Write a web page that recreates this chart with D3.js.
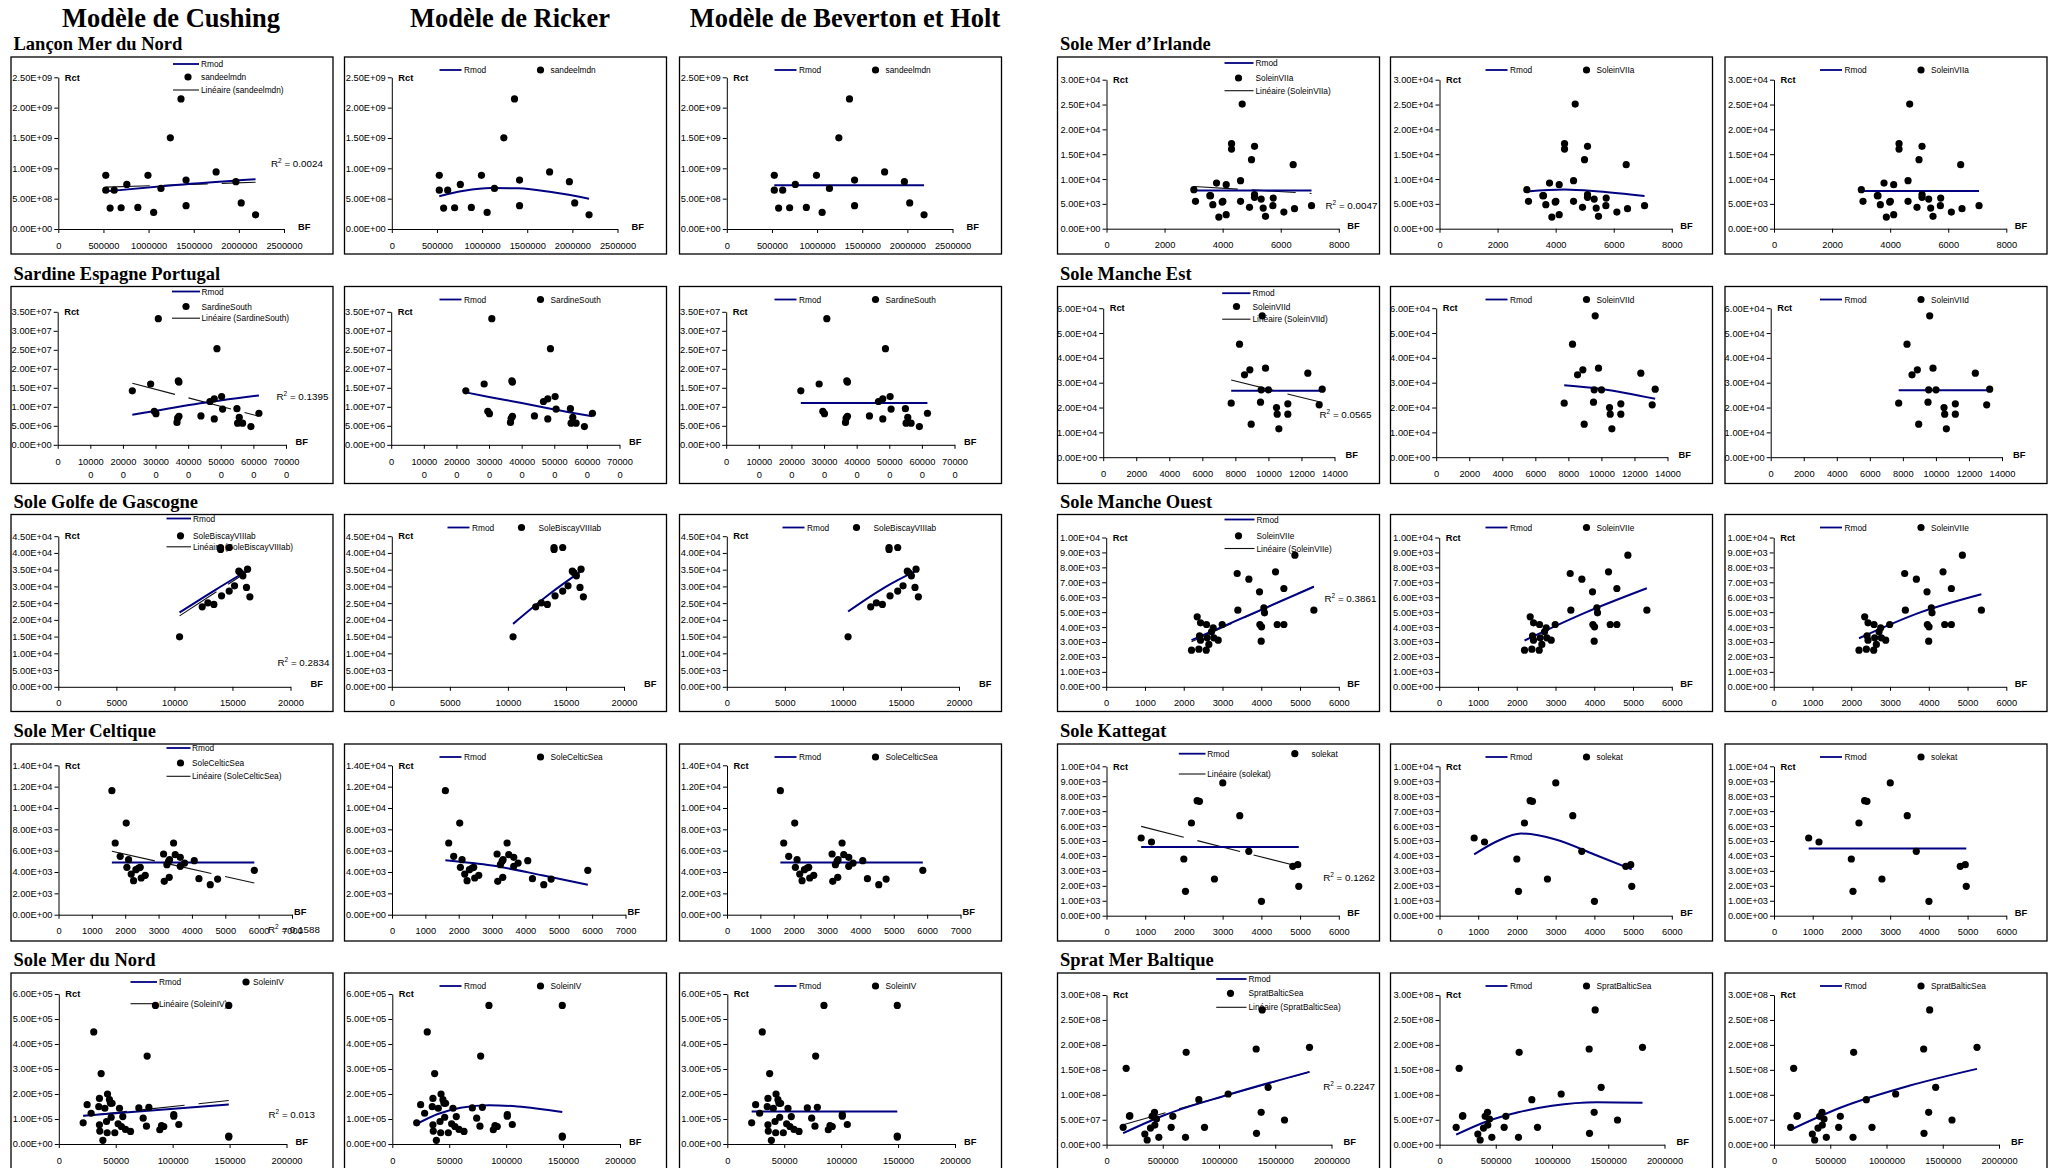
<!DOCTYPE html>
<html>
<head>
<meta charset="utf-8">
<script src="https://cdn.jsdelivr.net/npm/d3@7"></script>
<style>
  body { margin: 0; background: #fff; }
  svg { display: block; }
</style>
</head>
<body>
<svg id="chart" width="2060" height="1168"></svg>
<script>
// ---------- Stock-recruitment data: BF (spawning biomass) vs Rct (recruitment) ----------

// Lançon Mer du Nord (sandeelmdn)
const lanconBF  = [526000, 526000, 574000, 619000, 696000, 759000, 881000, 993000, 1056000, 1137000, 1241000, 1359000, 1415000, 1415000, 1748000, 1967000, 2026000, 2185000];
const lanconRct = [8.85e8, 6.40e8, 3.45e8, 6.40e8, 3.50e8, 7.35e8, 3.56e8, 8.85e8, 2.73e8, 6.68e8, 1.503e9, 2.144e9, 8.07e8, 3.84e8, 9.41e8, 7.80e8, 4.29e8, 2.34e8];
const lanconCushing = [[526000, 6.2e8], [1300000, 7.25e8], [2185000, 8.2e8]];
const lanconRicker  = [[526000, 5.4e8], [800000, 6.3e8], [1100000, 6.75e8], [1400000, 6.7e8], [1800000, 6.0e8], [2185000, 5.0e8]];
const lanconBH      = [[526000, 7.2e8], [2185000, 7.2e8]];
const lanconTrend   = [[526000, 6.9e8], [2185000, 7.7e8]];
const lanconXTicks  = [0, 500000, 1000000, 1500000, 2000000, 2500000];
const lanconYTicks  = [0, 5e8, 1e9, 1.5e9, 2e9, 2.5e9];

// Sardine Espagne Portugal (SardineSouth)
const sardineBF  = [228800, 285000, 308500, 296200, 301300, 369800, 371800, 365700, 367700, 371800, 439200, 466800, 480100, 488300, 480100, 502600, 505600, 549500, 556700, 551600, 566900, 592400, 617000];
const sardineRct = [14.2e6, 16.0e6, 33.2e6, 8.8e6, 8.2e6, 16.8e6, 16.5e6, 5.9e6, 7.0e6, 7.5e6, 7.6e6, 11.4e6, 12.1e6, 25.3e6, 6.8e6, 12.7e6, 9.4e6, 9.5e6, 7.2e6, 5.7e6, 5.7e6, 4.8e6, 8.3e6];
const sardineCushing = [[228800, 7.9e6], [420000, 10.7e6], [617000, 13.0e6]];
const sardineRicker  = [[228800, 13.8e6], [300000, 12.6e6], [400000, 11.0e6], [500000, 9.3e6], [617000, 7.5e6]];
const sardineBH      = [[228800, 11.0e6], [617000, 11.0e6]];
const sardineTrend   = [[228800, 16.2e6], [617000, 7.5e6]];
const sardineXTicks  = [0, 100000, 200000, 300000, 400000, 500000, 600000, 700000];
const sardineYTicks  = [0, 5e6, 1e7, 1.5e7, 2e7, 2.5e7, 3e7, 3.5e7];

// Sole Golfe de Gascogne (SoleBiscayVIIIab)
const gascogneBF  = [10445, 12396, 12884, 13400, 14060, 13975, 13975, 14720, 14720, 15180, 15550, 15700, 15900, 16300, 16210, 16500];
const gascogneRct = [14940, 23900, 25100, 24600, 27190, 41630, 41040, 41630, 28590, 30180, 34560, 34060, 33170, 35160, 29680, 26890];
const gascogneCushing = [[10445, 22200], [13500, 28900], [16500, 35200]];
const gascogneRicker  = [[10445, 18800], [13500, 27500], [16500, 35000]];
const gascogneBH      = [[10445, 22500], [13500, 29500], [16500, 35000]];
const gascogneTrend   = [[10445, 21200], [16500, 34900]];
const gascogneXTicks  = [0, 5000, 10000, 15000, 20000];
const gascogneYTicks  = [0, 5e3, 1e4, 1.5e4, 2e4, 2.5e4, 3e4, 3.5e4, 4e4, 4.5e4];

// Sole Mer Celtique (SoleCelticSea)
const celtiqueBF  = [1600, 1700, 1850, 2030, 2100, 2050, 2180, 2250, 2320, 2400, 2450, 2480, 2600, 3150, 3170, 3250, 3300, 3330, 3320, 3450, 3500, 3650, 3650, 3780, 4070, 4210, 4550, 4770, 5870];
const celtiqueRct = [11625, 6720, 5470, 8590, 5160, 4440, 3810, 3190, 4220, 4375, 4440, 3440, 3690, 5690, 3125, 4690, 5000, 5160, 3500, 6720, 5625, 5375, 4530, 4840, 5060, 3375, 2810, 3340, 4160];
const celtiqueCushing = [[1600, 4900], [5870, 4900]];
const celtiqueRicker  = [[1600, 5100], [3000, 4600], [4500, 3700], [5870, 2800]];
const celtiqueBH      = [[1600, 4900], [5870, 4900]];
const celtiqueTrend   = [[1600, 5940], [5870, 2970]];
const celtiqueXTicks  = [0, 1000, 2000, 3000, 4000, 5000, 6000, 7000];
const celtiqueYTicks  = [0, 2e3, 4e3, 6e3, 8e3, 1e4, 1.2e4, 1.4e4];

// Sole Mer du Nord (SoleinIV)
const soleNordBF  = [21400, 24900, 28400, 30700, 35100, 35700, 35700, 36000, 37200, 38700, 40400, 41900, 42500, 42800, 44500, 45400, 46000, 46800, 49200, 52100, 53300, 55000, 56200, 58600, 63000, 70300, 74100, 77000, 77600, 79100, 84900, 88700, 90200, 92200, 101000, 101000, 105400, 149300, 149300, 149300];
const soleNordRct = [84700, 157400, 123000, 448400, 149500, 182500, 76700, 51600, 281800, 14600, 142900, 90000, 45000, 199700, 177300, 162700, 107100, 162700, 45000, 80700, 142900, 70100, 109800, 58200, 50300, 144200, 103200, 71400, 351900, 146800, 554300, 56900, 74100, 70100, 111100, 117700, 78000, 554300, 31700, 27800];
const soleNordCushing = [[21400, 113000], [149300, 158000]];
const soleNordRicker  = [[21400, 80000], [40000, 120000], [60000, 145000], [85000, 155000], [110000, 150000], [149300, 128000]];
const soleNordBH      = [[21400, 130000], [149300, 130000]];
const soleNordTrend   = [[21400, 112000], [149300, 174000]];
const soleNordXTicks  = [0, 50000, 100000, 150000, 200000];
const soleNordYTicks  = [0, 1e5, 2e5, 3e5, 4e5, 5e5, 6e5];

// Sole Mer d'Irlande (SoleinVIIa)
const irlandeBF  = [3008, 3065, 3559, 3582, 3662, 3789, 3984, 4007, 3869, 4122, 4122, 4306, 4306, 4616, 4616, 4673, 4994, 4925, 5098, 5098, 5098, 5327, 5396, 5476, 5741, 5729, 6108, 6429, 6475, 7061];
const irlandeRct = [7852, 5503, 6644, 6644, 4832, 9195, 5369, 5503, 2349, 8859, 2819, 17114, 16040, 9664, 5503, 25101, 13893, 4295, 16577, 6846, 6309, 5973, 4161, 2483, 6175, 4631, 3356, 12886, 4027, 4631];
const irlandeCushing = [[3008, 7700], [7061, 7700]];
const irlandeRicker  = [[3008, 7500], [4300, 7900], [5500, 7500], [7061, 6600]];
const irlandeBH      = [[3008, 7600], [7061, 7600]];
const irlandeTrend   = [[3008, 8500], [7061, 7100]];
const irlandeXTicks  = [0, 2000, 4000, 6000, 8000];
const irlandeYTicks  = [0, 5e3, 1e4, 1.5e4, 2e4, 2.5e4, 3e4];

// Sole Manche Est (SoleinVIId)
const mancheEstBF  = [7747, 8251, 8554, 8877, 8957, 9522, 9562, 9623, 9824, 10006, 10490, 10531, 10632, 11176, 11176, 12386, 13254, 13073];
const mancheEstRct = [21745, 45503, 33154, 35168, 13289, 22148, 27114, 56913, 35839, 27114, 20000, 17315, 11409, 21477, 17315, 33826, 27383, 21074];
const mancheEstCushing = [[7747, 26800], [13254, 26800]];
const mancheEstRicker  = [[7747, 29000], [10000, 27500], [13254, 23500]];
const mancheEstBH      = [[7747, 27000], [13254, 27000]];
const mancheEstTrend   = [[7747, 31100], [13254, 22000]];
const mancheEstXTicks  = [0, 2000, 4000, 6000, 8000, 10000, 12000, 14000];
const mancheEstYTicks  = [0, 1e4, 2e4, 3e4, 4e4, 5e4, 6e4];

// Sole Manche Ouest (SoleinVIIe)
const mancheOuestBF  = [2201, 2347, 2390, 2408, 2433, 2433, 2580, 2588, 2605, 2648, 2717, 2760, 2777, 2889, 2992, 3379, 3396, 3680, 3955, 3964, 4007, 3998, 4067, 4084, 4368, 4411, 4583, 4583, 4867, 5357];
const mancheOuestRct = [2455, 4688, 2522, 3415, 3125, 4286, 2455, 4174, 3281, 2835, 3683, 3951, 3281, 3125, 4174, 7589, 5134, 7210, 6362, 4174, 4018, 3058, 5290, 4955, 7701, 4174, 6585, 4174, 8817, 5134];
const mancheOuestCushing = [[2201, 3125], [5357, 6700]];
const mancheOuestRicker  = [[2201, 3100], [3800, 5000], [5357, 6600]];
const mancheOuestBH      = [[2201, 3250], [3800, 5000], [5357, 6200]];
const mancheOuestTrend   = [[2201, 3020], [5357, 6740]];
const mancheOuestXTicks  = [0, 1000, 2000, 3000, 4000, 5000, 6000];
const mancheOuestYTicks  = [0, 1e3, 2e3, 3e3, 4e3, 5e3, 6e3, 7e3, 8e3, 9e3, 1e4];

// Sole Kattegat (solekat)
const kattegatBF  = [895, 1162, 1997, 2040, 2194, 2341, 2401, 2788, 3003, 3442, 3675, 4002, 4811, 4940, 4966];
const kattegatRct = [5201, 4933, 3795, 1629, 6205, 7701, 7656, 2455, 8884, 6696, 4308, 960, 3304, 3415, 1964];
const kattegatCushing = [[895, 4600], [4966, 4600]];
const kattegatRicker  = [[895, 4100], [1500, 5000], [2100, 5500], [3000, 5100], [4000, 4100], [4966, 3100]];
const kattegatBH      = [[895, 4500], [4966, 4500]];
const kattegatTrend   = [[895, 5980], [4966, 3300]];
const kattegatXTicks  = [0, 1000, 2000, 3000, 4000, 5000, 6000];
const kattegatYTicks  = [0, 1e3, 2e3, 3e3, 4e3, 5e3, 6e3, 7e3, 8e3, 9e3, 1e4];

// Sprat Mer Baltique (SpratBalticSea)
const spratBF  = [148100, 174800, 204400, 207400, 340700, 361500, 391100, 405900, 426700, 429600, 444400, 465200, 589600, 574800, 708100, 702200, 820700, 871100, 1081500, 1330400, 1333300, 1374800, 1383700, 1437000, 1582200, 1804400];
const spratRct = [34.8e6, 153.1e6, 56.8e6, 58.2e6, 21.4e6, 9.4e6, 33.4e6, 56.8e6, 64.8e6, 39.4e6, 51.5e6, 14.7e6, 56.8e6, 34.8e6, 185.2e6, 14.7e6, 90.2e6, 34.8e6, 101.6e6, 191.8e6, 22.7e6, 64.8e6, 270.1e6, 115.0e6, 49.5e6, 195.2e6];
const spratCushing = [[148100, 23e6], [500000, 58e6], [1081500, 100e6], [1804400, 146e6]];
const spratRicker  = [[148100, 20e6], [400000, 45e6], [700000, 65e6], [1000000, 78e6], [1400000, 85e6], [1804400, 84e6]];
const spratBH      = [[148100, 30e6], [600000, 75e6], [1200000, 118e6], [1804400, 152e6]];
const spratTrend   = [[148100, 40e6], [1804400, 146e6]];
const spratXTicks  = [0, 500000, 1000000, 1500000, 2000000];
const spratYTicks  = [0, 5e7, 1e8, 1.5e8, 2e8, 2.5e8, 3e8];

// Column headers (one per model)
const modelTitles = ["Modèle de Cushing", "Modèle de Ricker", "Modèle de Beverton et Holt"];

// Stocks: the first five fill the left block, the last five the right block
const stocks = [
  { title: "Lançon Mer du Nord",       series: "sandeelmdn",       bf: lanconBF,      rct: lanconRct,      models: [lanconCushing, lanconRicker, lanconBH],                trend: lanconTrend,      r2: "0.0024", xTicks: lanconXTicks,      yTicks: lanconYTicks },
  { title: "Sardine Espagne Portugal", series: "SardineSouth",     bf: sardineBF,     rct: sardineRct,     models: [sardineCushing, sardineRicker, sardineBH],             trend: sardineTrend,     r2: "0.1395", xTicks: sardineXTicks,     yTicks: sardineYTicks, wrapX: true },
  { title: "Sole Golfe de Gascogne",   series: "SoleBiscayVIIIab", bf: gascogneBF,    rct: gascogneRct,    models: [gascogneCushing, gascogneRicker, gascogneBH],          trend: gascogneTrend,    r2: "0.2834", xTicks: gascogneXTicks,    yTicks: gascogneYTicks },
  { title: "Sole Mer Celtique",        series: "SoleCelticSea",    bf: celtiqueBF,    rct: celtiqueRct,    models: [celtiqueCushing, celtiqueRicker, celtiqueBH],          trend: celtiqueTrend,    r2: "0.1588", xTicks: celtiqueXTicks,    yTicks: celtiqueYTicks },
  { title: "Sole Mer du Nord",         series: "SoleinIV",         bf: soleNordBF,    rct: soleNordRct,    models: [soleNordCushing, soleNordRicker, soleNordBH],          trend: soleNordTrend,    r2: "0.013",  xTicks: soleNordXTicks,    yTicks: soleNordYTicks },
  { title: "Sole Mer d\u2019Irlande",  series: "SoleinVIIa",       bf: irlandeBF,     rct: irlandeRct,     models: [irlandeCushing, irlandeRicker, irlandeBH],             trend: irlandeTrend,     r2: "0.0047", xTicks: irlandeXTicks,     yTicks: irlandeYTicks },
  { title: "Sole Manche Est",          series: "SoleinVIId",       bf: mancheEstBF,   rct: mancheEstRct,   models: [mancheEstCushing, mancheEstRicker, mancheEstBH],       trend: mancheEstTrend,   r2: "0.0565", xTicks: mancheEstXTicks,   yTicks: mancheEstYTicks },
  { title: "Sole Manche Ouest",        series: "SoleinVIIe",       bf: mancheOuestBF, rct: mancheOuestRct, models: [mancheOuestCushing, mancheOuestRicker, mancheOuestBH], trend: mancheOuestTrend, r2: "0.3861", xTicks: mancheOuestXTicks, yTicks: mancheOuestYTicks },
  { title: "Sole Kattegat",            series: "solekat",          bf: kattegatBF,    rct: kattegatRct,    models: [kattegatCushing, kattegatRicker, kattegatBH],          trend: kattegatTrend,    r2: "0.1262", xTicks: kattegatXTicks,    yTicks: kattegatYTicks },
  { title: "Sprat Mer Baltique",       series: "SpratBalticSea",   bf: spratBF,       rct: spratRct,       models: [spratCushing, spratRicker, spratBH],                   trend: spratTrend,       r2: "0.2247", xTicks: spratXTicks,       yTicks: spratYTicks }
];

// ---------- Layout ----------
const W = 2060, H = 1168;
const colX = [11, 344.5, 679.5, 1057.5, 1390.5, 1725];
const rowY = [57, 286.5, 514.5, 744, 973];
const headerX = [171, 510, 845];
const BOX_W = 322, BOX_H = 197;
const SERIF = "'Liberation Serif', 'Times New Roman', serif";
const SANS = "'Liberation Sans', Arial, sans-serif";
const RMOD_COLOR = "#000080";
const DOT_R = 3.6;

// Plot area, legend and R² placement inside each stock's chart box
const defaultLeg2 = { line: [95, 117], text: 119.5, dot: 196, label: 206, y: 13 };
const frames = [
  { left: 47.3, right: 273,   top: 20.3, bottom: 172,   bfX: 287,   r2: [260, 107],   leg: { kind: "stack", line: [162, 188],     text: 190,   dot: 177,   rows: [7, 20, 33] } },
  { left: 46.7, right: 275,   top: 25.3, bottom: 158.3, bfX: 284.5, r2: [265.5, 110], leg: { kind: "stack", line: [161, 189],     text: 190.5, dot: 175,   rows: [5, 20, 31.7] } },
  { left: 47.3, right: 279.5, top: 21.7, bottom: 172.3, bfX: 299.5, r2: [266.5, 148], leg: { kind: "stack", line: [155.5, 180],   text: 182,   dot: 169.5, rows: [4, 21.3, 32.3] }, leg2: { line: [103, 125], text: 127.5, dot: 177, label: 194, y: 13 } },
  { left: 47.5, right: 281,   top: 21.3, bottom: 170.7, bfX: 283,   r2: [257, 186],   leg: { kind: "stack", line: [155.5, 179.5], text: 181,   dot: 169.5, rows: [4, 19, 32.3] } },
  { left: 47.8, right: 275.5, top: 21,   bottom: 171,   bfX: 284.5, r2: [257.5, 141.5], leg: { kind: "pair", line: [119.5, 146],  text: 148,   dot: 235,   label: 242, rows: [9, 30.7] } },
  { left: 49,   right: 281.3, top: 22.7, bottom: 171.7, bfX: 289.7, r2: [268, 148.5], leg: { kind: "stack", line: [167, 196],     text: 198,   dot: 181,   rows: [6, 21, 33.7] } },
  { left: 45.7, right: 277,   top: 21.7, bottom: 170.7, bfX: 288,   r2: [262, 128],   leg: { kind: "stack", line: [164.7, 193],   text: 195,   dot: 179,   rows: [6.7, 20, 32.7] } },
  { left: 48.7, right: 281.3, top: 23,   bottom: 172.3, bfX: 289.7, r2: [267, 84],    leg: { kind: "stack", line: [167, 197],     text: 199,   dot: 181,   rows: [5, 21.3, 34] } },
  { left: 49,   right: 281.3, top: 22.3, bottom: 171.7, bfX: 289.7, r2: [265.7, 134], leg: { kind: "pair",  line: [121.3, 148],   text: 149.7, dot: 237.3, label: 254, rows: [9.7, 30] } },
  { left: 49,   right: 274,   top: 22,   bottom: 171.7, bfX: 286,   r2: [265.7, 114], leg: { kind: "stack", line: [158.7, 189],   text: 191,   dot: 173,   rows: [6, 20.3, 34.3] } }
];

// Excel-style scientific labels, e.g. 2.50E+09
function sci(v) {
  if (v === 0) return "0.00E+00";
  const e = Math.floor(Math.log10(v) + 1e-9);
  const m = v / Math.pow(10, e);
  return m.toFixed(2) + "E+" + String(e).padStart(2, "0");
}
const intFmt = d3.format("d");

const svg = d3.select("#chart");
svg.append("rect").attr("width", W).attr("height", H).attr("fill", "#fff");

// Column headers
modelTitles.forEach((t, i) => {
  svg.append("text")
    .attr("x", headerX[i]).attr("y", 27)
    .attr("text-anchor", "middle")
    .attr("font-family", SERIF).attr("font-weight", "bold").attr("font-size", 26.5)
    .attr("fill", "#000")
    .text(t);
});

function legendText(g, x, y, txt) {
  g.append("text").attr("x", x).attr("y", y + 3)
    .attr("font-family", SANS).attr("font-size", 8.3).attr("fill", "#000")
    .text(txt);
}
function legendLine(g, x0, x1, y, color, w) {
  g.append("line").attr("x1", x0).attr("x2", x1).attr("y1", y).attr("y2", y)
    .attr("stroke", color).attr("stroke-width", w);
}
function legendDot(g, x, y) {
  g.append("circle").attr("cx", x).attr("cy", y).attr("r", DOT_R).attr("fill", "#000");
}

function drawPanel(stock, frame, m, gx, gy) {
  const g = svg.append("g").attr("transform", `translate(${gx},${gy})`);
  g.append("rect").attr("x", 0).attr("y", 0).attr("width", BOX_W).attr("height", BOX_H)
    .attr("fill", "#fff").attr("stroke", "#000").attr("stroke-width", 1.3);

  const x = d3.scaleLinear().domain([0, d3.max(stock.xTicks)]).range([frame.left, frame.right]);
  const y = d3.scaleLinear().domain([0, d3.max(stock.yTicks)]).range([frame.bottom, frame.top]);

  // Legend (drawn first; the data marks sit on top of it)
  const lg = g.append("g");
  if (m === 0) {
    const L = frame.leg;
    if (L.kind === "stack") {
      legendLine(lg, L.line[0], L.line[1], L.rows[0], RMOD_COLOR, 1.8);
      legendText(lg, L.text, L.rows[0], "Rmod");
      legendDot(lg, L.dot, L.rows[1]);
      legendText(lg, L.text, L.rows[1], stock.series);
      legendLine(lg, L.line[0], L.line[1], L.rows[2], "#111", 1.1);
      legendText(lg, L.text, L.rows[2], `Linéaire (${stock.series})`);
    } else {
      legendLine(lg, L.line[0], L.line[1], L.rows[0], RMOD_COLOR, 1.8);
      legendText(lg, L.text, L.rows[0], "Rmod");
      legendDot(lg, L.dot, L.rows[0]);
      legendText(lg, L.label, L.rows[0], stock.series);
      legendLine(lg, L.line[0], L.line[1], L.rows[1], "#111", 1.1);
      legendText(lg, L.text, L.rows[1], `Linéaire (${stock.series})`);
    }
  } else {
    const L = frame.leg2 || defaultLeg2;
    legendLine(lg, L.line[0], L.line[1], L.y, RMOD_COLOR, 1.8);
    legendText(lg, L.text, L.y, "Rmod");
    legendDot(lg, L.dot, L.y);
    legendText(lg, L.label, L.y, stock.series);
  }

  // Axes
  const ax = g.append("g").attr("transform", `translate(0,${frame.bottom})`)
    .call(d3.axisBottom(x).tickValues(stock.xTicks).tickFormat(intFmt)
      .tickSizeInner(4).tickSizeOuter(0).tickPadding(stock.wrapX ? 10 : 9));
  const ay = g.append("g").attr("transform", `translate(${frame.left},0)`)
    .call(d3.axisLeft(y).tickValues(stock.yTicks).tickFormat(sci)
      .tickSizeInner(4).tickSizeOuter(0).tickPadding(2));
  [ax, ay].forEach(a => {
    a.attr("font-family", SANS).attr("font-size", 9.3);
    a.selectAll("path, line").attr("stroke", "#000").attr("stroke-width", 1);
    a.selectAll("text").attr("fill", "#000");
  });
  if (stock.wrapX) {
    ax.selectAll(".tick text").each(function (d) {
      const s = intFmt(d);
      if (s.length > 5) {
        const t = d3.select(this).text(null);
        t.append("tspan").attr("x", 0).text(s.slice(0, -1));
        t.append("tspan").attr("x", 0).attr("dy", "1.35em").text(s.slice(-1));
      }
    });
  }

  // Axis titles
  g.append("text").attr("x", frame.left + 6.5).attr("y", frame.top + 3.2)
    .attr("font-family", SANS).attr("font-weight", "bold").attr("font-size", 9.3).text("Rct");
  g.append("text").attr("x", frame.bfX).attr("y", frame.bottom + 0.5)
    .attr("font-family", SANS).attr("font-weight", "bold").attr("font-size", 9.3).text("BF");

  const line = d3.line().x(d => x(d[0])).y(d => y(d[1]));

  // Linear trend (Cushing panels only)
  if (m === 0) {
    g.append("path").datum(stock.trend).attr("d", line)
      .attr("fill", "none").attr("stroke", "#111").attr("stroke-width", 1.1)
      .attr("stroke-dasharray", "44,14");
  }

  // Fitted model curve
  g.append("path").datum(stock.models[m]).attr("d", line.curve(d3.curveMonotoneX))
    .attr("fill", "none").attr("stroke", RMOD_COLOR).attr("stroke-width", 2);

  // Observations
  g.append("g").selectAll("circle")
    .data(d3.zip(stock.bf, stock.rct))
    .join("circle")
    .attr("cx", d => x(d[0])).attr("cy", d => y(d[1])).attr("r", DOT_R).attr("fill", "#000");

  // R² of the linear trend
  if (m === 0) {
    const t = g.append("text").attr("x", frame.r2[0]).attr("y", frame.r2[1] + 3.3)
      .attr("font-family", SANS).attr("font-size", 9.8).attr("fill", "#000");
    t.append("tspan").text("R");
    t.append("tspan").attr("dy", -4).attr("font-size", 6.5).text("2");
    t.append("tspan").attr("dy", 4).text(` = ${stock.r2}`);
  }
}

stocks.forEach((stock, i) => {
  const block = i < 5 ? 0 : 1;
  const row = i % 5;
  const frame = frames[i];
  // Stock title above the first chart of its row
  svg.append("text")
    .attr("x", colX[block * 3] + 2.5).attr("y", rowY[row] - 7)
    .attr("font-family", SERIF).attr("font-weight", "bold").attr("font-size", 18.5)
    .attr("fill", "#000")
    .text(stock.title);
  for (let m = 0; m < 3; m++) {
    drawPanel(stock, frame, m, colX[block * 3 + m], rowY[row]);
  }
});
</script>
</body>
</html>
